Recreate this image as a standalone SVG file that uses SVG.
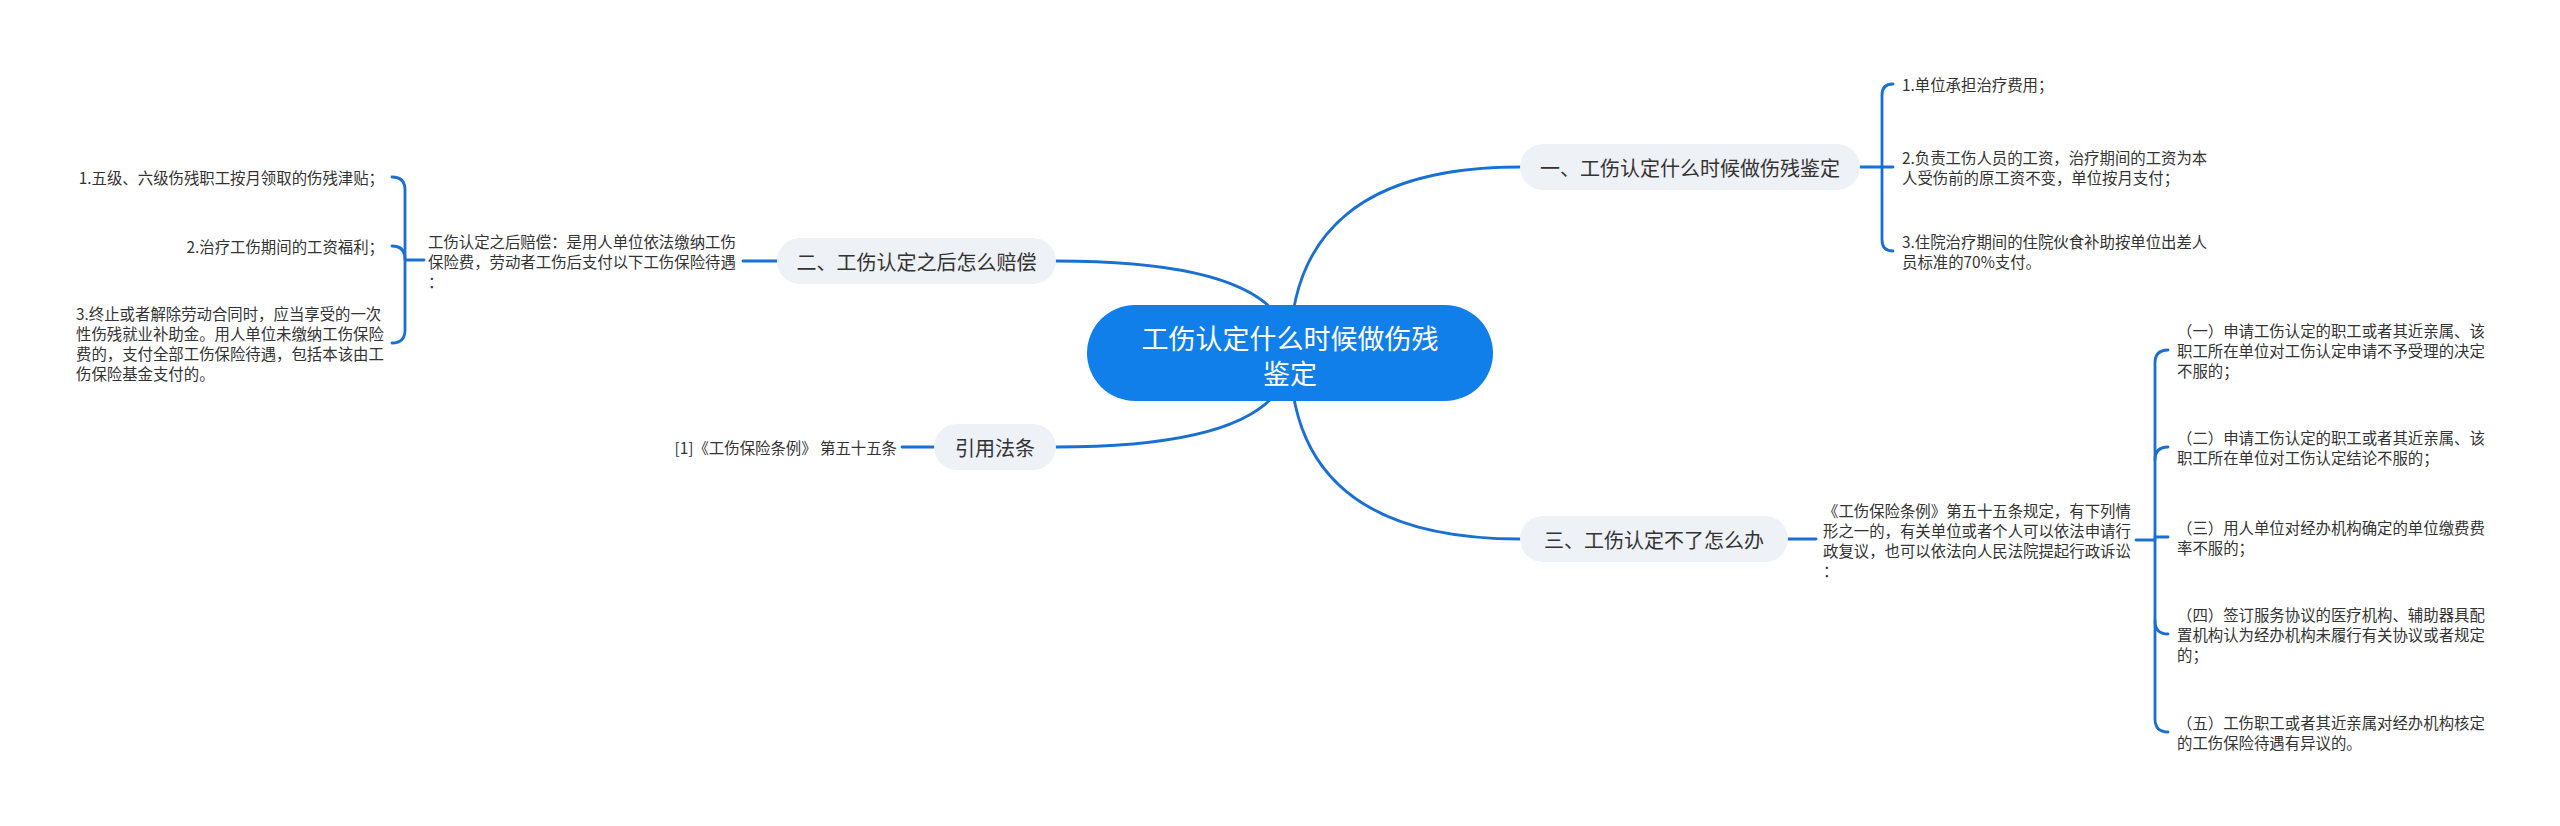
<svg xmlns="http://www.w3.org/2000/svg" width="2560" height="826" viewBox="0 0 2560 826">
<style>
text{font-family:"Noto Sans CJK SC","Microsoft YaHei",sans-serif;dominant-baseline:central;}
.c{fill:none;stroke:#1a6fd3;stroke-width:2.8;stroke-linecap:round;}
.main{fill:#117fe9;}
.mt{font-size:27px;fill:#ffffff;text-anchor:middle;}
.br{fill:#eef1f5;}
.bt{font-size:20px;fill:#333333;text-anchor:middle;}
.lt{font-size:15.4px;fill:#333333;}
.r{text-anchor:end;}
</style>
<rect width="2560" height="826" fill="#ffffff"/>
<g id="connectors">
<path class="c" d="M1290 353 Q1290 167 1520 167"/>
<path class="c" d="M1290 353 Q1290 261 1056 261"/>
<path class="c" d="M1290 353 Q1290 447 1056 447"/>
<path class="c" d="M1290 353 Q1290 539 1520 539"/>
<path class="c" d="M1860 167 H1893"/>
<path class="c" d="M1893 84 Q1882 84 1882 95 V240 Q1882 251 1893 251"/>
<path class="c" d="M777 261 H743"/>
<path class="c" d="M424 260 H405"/>
<path class="c" d="M392 177 Q405 177 405 190 V330 Q405 343 392 343"/>
<path class="c" d="M392 246 Q405 246 405 259"/>
<path class="c" d="M934 447 H902"/>
<path class="c" d="M1788 539 H1816"/>
<path class="c" d="M2136 540 H2155"/>
<path class="c" d="M2168 350 Q2155 350 2155 363 V719 Q2155 732 2168 732"/>
<path class="c" d="M2155 460 Q2155 447 2168 447"/>
<path class="c" d="M2155 537 H2168"/>
<path class="c" d="M2155 621 Q2155 634 2168 634"/>
</g>
<g id="root">
<rect class="main" x="1087" y="305" width="406" height="96" rx="48"/>
<text class="mt" x="1290" y="337">工伤认定什么时候做伤残</text>
<text class="mt" x="1290" y="372">鉴定</text>
</g>
<g id="b1">
<rect class="br" x="1520" y="144" width="340" height="46" rx="23"/>
<text class="bt" x="1690" y="167">一、工伤认定什么时候做伤残鉴定</text>
</g>
<g id="b1-1"><text class="lt" x="1902" y="84">1.单位承担治疗费用；</text></g>
<g id="b1-2"><text class="lt" x="1902" y="157">2.负责工伤人员的工资，治疗期间的工资为本</text><text class="lt" x="1902" y="177">人受伤前的原工资不变，单位按月支付；</text></g>
<g id="b1-3"><text class="lt" x="1902" y="241">3.住院治疗期间的住院伙食补助按单位出差人</text><text class="lt" x="1902" y="261">员标准的70%支付。</text></g>
<g id="b2">
<rect class="br" x="777" y="238" width="279" height="46" rx="23"/>
<text class="bt" x="916.5" y="261">二、工伤认定之后怎么赔偿</text>
</g>
<g id="b2-0">
<text class="lt" x="428" y="241">工伤认定之后赔偿：是用人单位依法缴纳工伤</text>
<text class="lt" x="428" y="261">保险费，劳动者工伤后支付以下工伤保险待遇</text>
<text class="lt" x="428" y="281">：</text>
</g>
<g id="b2-1"><text class="lt r" x="384" y="177">1.五级、六级伤残职工按月领取的伤残津贴；</text></g>
<g id="b2-2"><text class="lt r" x="384" y="246">2.治疗工伤期间的工资福利；</text></g>
<g id="b2-3">
<text class="lt" x="76" y="313">3.终止或者解除劳动合同时，应当享受的一次</text>
<text class="lt" x="76" y="333">性伤残就业补助金。用人单位未缴纳工伤保险</text>
<text class="lt" x="76" y="353">费的，支付全部工伤保险待遇，包括本该由工</text>
<text class="lt" x="76" y="373">伤保险基金支付的。</text>
</g>
<g id="b4">
<rect class="br" x="934" y="424" width="122" height="46" rx="23"/>
<text class="bt" x="995" y="447">引用法条</text>
</g>
<g id="b4-1"><text class="lt r" x="897" y="447">[1]《工伤保险条例》 第五十五条</text></g>
<g id="b3">
<rect class="br" x="1520" y="516" width="268" height="46" rx="23"/>
<text class="bt" x="1654" y="539">三、工伤认定不了怎么办</text>
</g>
<g id="b3-0">
<text class="lt" x="1823" y="510">《工伤保险条例》第五十五条规定，有下列情</text>
<text class="lt" x="1823" y="530">形之一的，有关单位或者个人可以依法申请行</text>
<text class="lt" x="1823" y="550">政复议，也可以依法向人民法院提起行政诉讼</text>
<text class="lt" x="1823" y="570">：</text>
</g>
<g id="b3-1">
<text class="lt" x="2177" y="330">（一）申请工伤认定的职工或者其近亲属、该</text>
<text class="lt" x="2177" y="350">职工所在单位对工伤认定申请不予受理的决定</text>
<text class="lt" x="2177" y="370">不服的；</text>
</g>
<g id="b3-2">
<text class="lt" x="2177" y="437">（二）申请工伤认定的职工或者其近亲属、该</text>
<text class="lt" x="2177" y="457">职工所在单位对工伤认定结论不服的；</text>
</g>
<g id="b3-3">
<text class="lt" x="2177" y="527">（三）用人单位对经办机构确定的单位缴费费</text>
<text class="lt" x="2177" y="547">率不服的；</text>
</g>
<g id="b3-4">
<text class="lt" x="2177" y="614">（四）签订服务协议的医疗机构、辅助器具配</text>
<text class="lt" x="2177" y="634">置机构认为经办机构未履行有关协议或者规定</text>
<text class="lt" x="2177" y="654">的；</text>
</g>
<g id="b3-5">
<text class="lt" x="2177" y="722">（五）工伤职工或者其近亲属对经办机构核定</text>
<text class="lt" x="2177" y="742">的工伤保险待遇有异议的。</text>
</g>
</svg>
